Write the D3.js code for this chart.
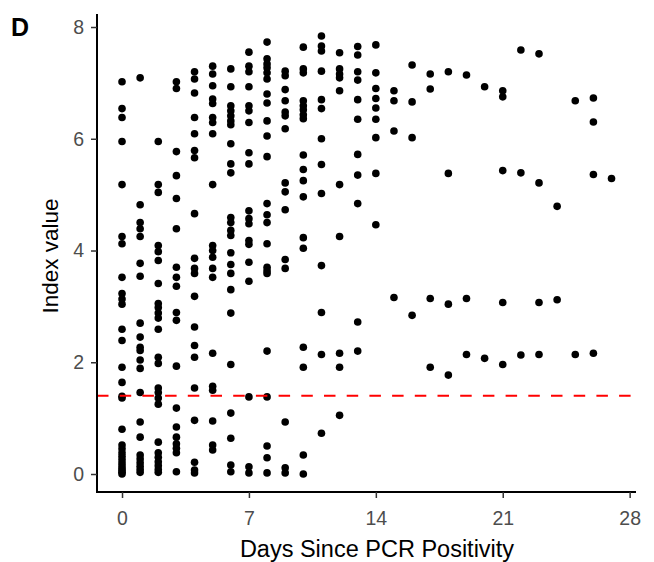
<!DOCTYPE html>
<html>
<head>
<meta charset="utf-8">
<script src="https://cdn.jsdelivr.net/npm/d3@7"></script>
<style>
  html, body { margin: 0; padding: 0; background: #fff; }
  svg { display: block; font-family: "Liberation Sans", Arial, sans-serif; }
</style>
</head>
<body>
<svg id="chart" width="654" height="562"></svg>
<script>
// Index values observed on each day since PCR positivity (array position = day)
const indexByDay = [
  /* 0 */ [7.02, 6.54, 6.38, 5.95, 5.18, 4.25, 4.12, 3.52, 3.23, 3.13, 3.04, 2.59, 2.39, 1.91, 1.64, 1.39, 1.36, 0.8, 0.52, 0.45, 0.38, 0.32, 0.26, 0.2, 0.15, 0.1, 0.06, 0.03, 0.0],
  /* 1 */ [7.09, 4.82, 4.5, 4.39, 4.25, 3.77, 3.54, 2.7, 2.45, 2.27, 2.21, 2.04, 1.89, 1.46, 0.93, 0.66, 0.34, 0.27, 0.2, 0.14, 0.08, 0.03],
  /* 2 */ [5.95, 5.18, 5.04, 4.09, 3.98, 3.82, 3.41, 3.05, 2.98, 2.88, 2.79, 2.59, 2.09, 1.98, 1.54, 1.46, 1.36, 1.25, 0.57, 0.38, 0.3, 0.22, 0.15, 0.08, 0.03],
  /* 3 */ [7.02, 6.9, 5.77, 5.34, 4.93, 4.39, 3.7, 3.52, 3.36, 2.89, 2.75, 1.93, 1.18, 0.84, 0.66, 0.54, 0.46, 0.38, 0.04],
  /* 4 */ [7.2, 7.07, 6.82, 6.38, 6.09, 5.79, 5.66, 4.66, 3.86, 3.68, 3.59, 3.18, 2.63, 2.3, 2.09, 1.54, 0.96, 0.21, 0.07, 0.02],
  /* 5 */ [7.3, 7.16, 6.95, 6.71, 6.63, 6.38, 6.29, 6.09, 5.18, 4.09, 4.0, 3.88, 3.68, 3.52, 2.16, 1.57, 1.5, 0.95, 0.52, 0.43],
  /* 6 */ [7.25, 6.93, 6.59, 6.5, 6.41, 6.32, 6.25, 5.91, 5.55, 5.39, 4.59, 4.5, 4.36, 4.27, 3.96, 3.75, 3.59, 3.3, 2.88, 1.96, 1.09, 0.64, 0.16, 0.04],
  /* 7 */ [7.55, 7.3, 7.2, 6.93, 6.59, 6.5, 6.29, 5.75, 5.55, 4.71, 4.57, 4.48, 4.18, 4.11, 3.79, 3.45, 1.38, 0.13, 0.02],
  /* 8 */ [7.73, 7.43, 7.34, 7.27, 7.18, 7.07, 6.8, 6.64, 6.32, 6.05, 5.68, 4.84, 4.64, 4.5, 4.12, 3.7, 3.64, 3.59, 2.2, 1.38, 0.5, 0.29, 0.02],
  /* 9 */ [7.21, 7.13, 6.88, 6.68, 6.48, 6.41, 6.18, 5.21, 5.05, 4.73, 3.84, 3.68, 0.93, 0.11, 0.02],
  /* 10 */ [7.64, 7.25, 7.18, 6.68, 6.59, 6.52, 6.43, 6.36, 5.71, 5.45, 5.25, 4.96, 4.23, 4.04, 2.27, 1.91, 0.34, 0.0],
  /* 11 */ [7.84, 7.66, 7.57, 7.21, 6.7, 6.54, 6.0, 5.54, 5.02, 3.73, 2.89, 2.14, 0.73],
  /* 12 */ [7.54, 7.25, 7.16, 7.09, 6.86, 5.18, 4.25, 2.16, 1.91, 1.05],
  /* 13 */ [7.65, 7.5, 7.2, 7.05, 6.7, 6.35, 5.72, 5.35, 4.84, 2.72, 2.2],
  /* 14 */ [7.68, 7.18, 6.9, 6.72, 6.55, 6.35, 6.02, 5.38, 4.46],
  /* 15 */ [6.86, 6.68, 6.14, 3.16],
  /* 16 */ [7.32, 6.66, 6.02, 2.84],
  /* 17 */ [7.16, 6.89, 3.14, 1.91],
  /* 18 */ [7.2, 5.38, 3.04, 1.77],
  /* 19 */ [7.14, 3.14, 2.14],
  /* 20 */ [6.93, 2.07],
  /* 21 */ [6.86, 6.75, 5.43, 3.07, 1.96],
  /* 22 */ [7.59, 5.39, 2.13],
  /* 23 */ [7.52, 5.21, 3.07, 2.14],
  /* 24 */ [4.79, 3.12],
  /* 25 */ [6.68, 2.14],
  /* 26 */ [6.73, 6.3, 5.36, 2.16],
  /* 27 */ [5.29]
];
const xTicks = [0, 7, 14, 21, 28];
const yTicks = [0, 2, 4, 6, 8];
const threshold = 1.4;
const panelLabel = "D";
const xTitle = "Days Since PCR Positivity";
const yTitle = "Index value";

(function () {
  const points = [];
  indexByDay.forEach((vals, day) => vals.forEach(v => points.push({ day, v })));

  const svg = d3.select("#chart");
  const pLeft = 97, pRight = 636, pTop = 14, pBottom = 492;

  const x = d3.scaleLinear().domain([-1.38, 28.35]).range([pLeft, pRight]);
  const y = d3.scaleLinear().domain([-0.322, 8.233]).range([pBottom, pTop]);

  // points
  svg.append("g").selectAll("circle").data(points).join("circle")
    .attr("cx", d => x(d.day))
    .attr("cy", d => y(d.v))
    .attr("r", 3.8)
    .attr("fill", "#000");

  // threshold line
  svg.append("line")
    .attr("x1", pLeft).attr("x2", pRight)
    .attr("y1", y(threshold)).attr("y2", y(threshold))
    .attr("stroke", "#ff0000").attr("stroke-width", 2)
    .attr("stroke-dasharray", "11.5,11.2");

  // axes
  const xAxis = svg.append("g").attr("transform", `translate(0,${pBottom})`)
    .call(d3.axisBottom(x).tickValues(xTicks).tickSize(6).tickPadding(13).tickSizeOuter(0));
  const yAxis = svg.append("g").attr("transform", `translate(${pLeft},0)`)
    .call(d3.axisLeft(y).tickValues(yTicks).tickSize(6).tickPadding(7).tickSizeOuter(0));

  [xAxis, yAxis].forEach(g => {
    g.select(".domain").attr("stroke", "#000").attr("stroke-width", 2);
    g.selectAll(".tick line").attr("stroke", "#333").attr("stroke-width", 1.5);
    g.selectAll(".tick text").attr("fill", "#4d4d4d").style("font-size", "19.5px");
  });
  xAxis.select(".domain").attr("d", `M${pLeft - 1},0H${pRight}`);
  yAxis.select(".domain").attr("d", `M0,${pBottom + 1}V${pTop}`);

  svg.append("text")
    .attr("x", 377).attr("y", 557)
    .attr("text-anchor", "middle").attr("fill", "#000")
    .style("font-size", "23.5px").text(xTitle);

  svg.append("text")
    .attr("transform", `translate(58,256) rotate(-90)`)
    .attr("text-anchor", "middle").attr("fill", "#000")
    .style("font-size", "22.5px").text(yTitle);

  svg.append("text")
    .attr("x", 11).attr("y", 36)
    .attr("fill", "#000").style("font-size", "25px").style("font-weight", "bold")
    .text(panelLabel);
})();
</script>
</body>
</html>
